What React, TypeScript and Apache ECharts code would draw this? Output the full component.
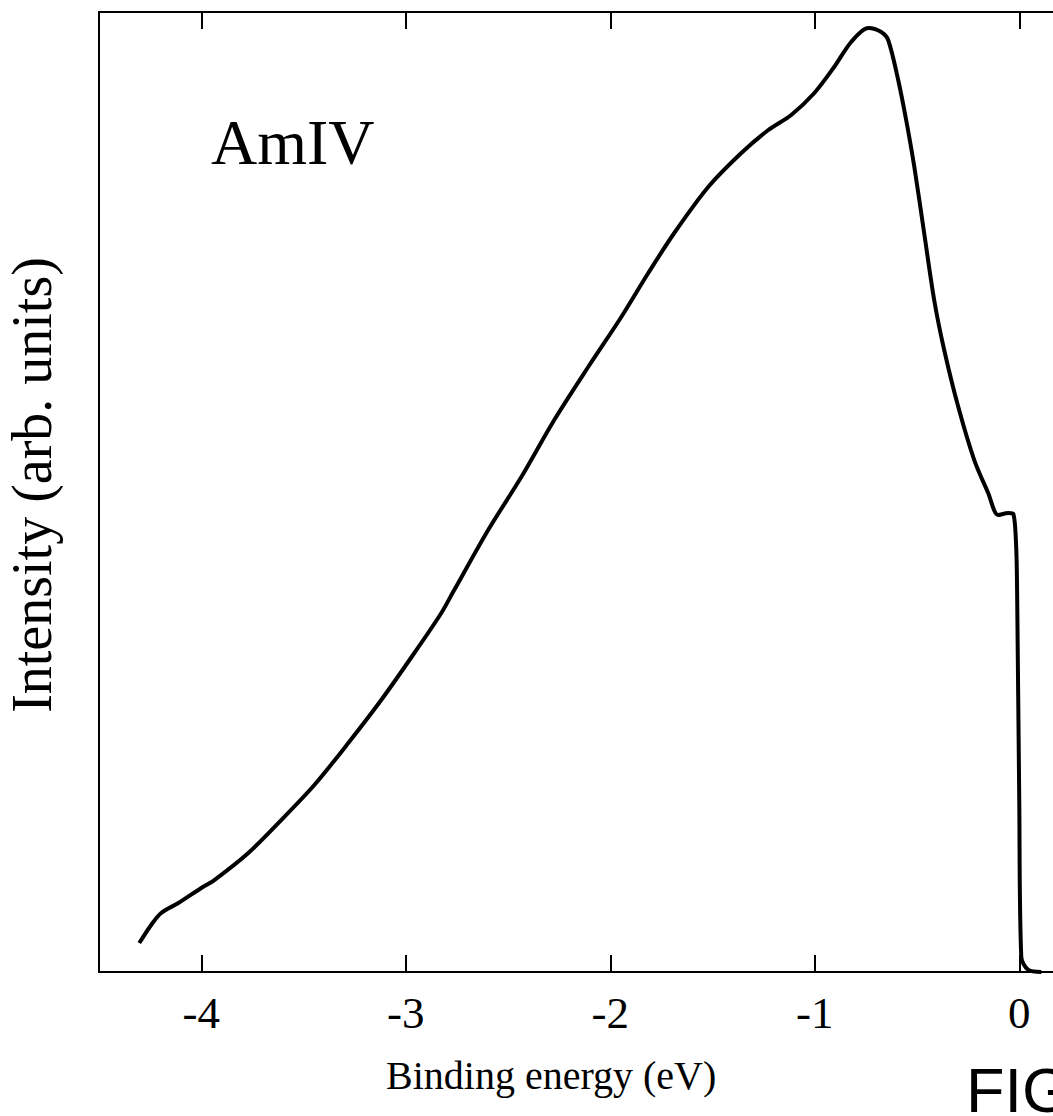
import React, { useEffect, useRef } from "react";
import * as echarts from "echarts";

const energy = [
  -4.303, -4.245, -4.196, -4.112, -4.0, -3.936, -3.77, -3.609, -3.447, -3.281,
  -3.12, -2.958, -2.826, -2.763, -2.597, -2.435, -2.274, -2.108, -1.946, -1.814,
  -1.687, -1.521, -1.359, -1.227, -1.115, -1.002, -0.905, -0.822, -0.738, -0.675,
  -0.641, -0.592, -0.553, -0.513, -0.465, -0.416, -0.367, -0.298, -0.22, -0.152,
  -0.103, -0.054, -0.029, -0.015, -0.01, 0.0, 0.01, 0.044, 0.108,
];
const intensity = [
  3.02, 4.9, 6.15, 7.19, 8.75, 9.58, 12.4, 15.83, 19.48, 23.85,
  28.33, 33.23, 37.4, 39.79, 46.04, 51.56, 57.5, 63.02, 68.23, 72.81,
  76.98, 81.77, 85.31, 87.71, 89.27, 91.56, 94.27, 96.88, 98.33, 97.92,
  97.08, 92.92, 88.75, 83.85, 76.98, 70.0, 64.79, 58.85, 53.33, 49.9,
  47.6, 47.81, 47.71, 44.27, 38.75, 17.92, 1.56, 0.21, 0.0,
];
const xTicks = [-4, -3, -2, -1, 0];
const xMin = -4.5;
const xMax = 0.5;
const yMin = 0;
const yMax = 100;

const sampleLabel = "AmIV";
const xTitle = "Binding energy (eV)";
const yTitle = "Intensity (arb. units)";
const figLabel = "FIG";

export default function App() {
  const ref = useRef<HTMLDivElement>(null);
  useEffect(() => {
    if (!ref.current) return;
    const chart = echarts.init(ref.current, null, { renderer: "svg" });
    const serif = "'Liberation Serif', 'Times New Roman', serif";
    const sans = "'Liberation Sans', Arial, sans-serif";
    const axisLine = { show: true, onZero: false, lineStyle: { color: "#000", width: 2 } };
    const tick = {
      show: true,
      inside: true,
      length: 17,
      customValues: xTicks,
      lineStyle: { color: "#000", width: 2 },
    };
    chart.setOption({
      animation: false,
      backgroundColor: "#fff",
      grid: { left: 99, top: 12, width: 1022.5, height: 960, containLabel: false },
      xAxis: [
        {
          type: "value",
          min: xMin,
          max: xMax,
          position: "bottom",
          axisLine,
          splitLine: { show: false },
          axisTick: tick,
          axisLabel: {
            show: true,
            customValues: xTicks,
            margin: 18,
            color: "#000",
            fontFamily: serif,
            fontSize: 45,
            formatter: (v: number) => String(v),
          },
        },
        {
          type: "value",
          min: xMin,
          max: xMax,
          position: "top",
          axisLine,
          splitLine: { show: false },
          axisTick: tick,
          axisLabel: { show: false },
        },
      ],
      yAxis: [
        {
          type: "value",
          min: yMin,
          max: yMax,
          position: "left",
          axisLine,
          axisTick: { show: false },
          axisLabel: { show: false },
          splitLine: { show: false },
        },
        {
          type: "value",
          min: yMin,
          max: yMax,
          position: "right",
          axisLine,
          axisTick: { show: false },
          axisLabel: { show: false },
          splitLine: { show: false },
        },
      ],
      series: [
        {
          type: "line",
          data: energy.map((e, i) => [e, intensity[i]]),
          showSymbol: false,
          smooth: 0.3,
          lineStyle: { color: "#000", width: 4 },
          xAxisIndex: 0,
          yAxisIndex: 0,
        },
      ],
      graphic: [
        {
          type: "text",
          left: 211,
          top: 110,
          style: { text: sampleLabel, fontFamily: serif, fontSize: 64, fill: "#000" },
        },
        {
          type: "text",
          left: 386,
          top: 1055,
          style: { text: xTitle, fontFamily: serif, fontSize: 40, fill: "#000" },
        },
        {
          type: "text",
          x: 32,
          y: 485,
          rotation: Math.PI / 2,
          style: {
            text: yTitle,
            fontFamily: serif,
            fontSize: 56,
            fill: "#000",
            align: "center",
            verticalAlign: "middle",
          },
        },
        {
          type: "text",
          left: 966,
          top: 1058,
          style: { text: figLabel, fontFamily: sans, fontSize: 63, fill: "#000" },
        },
      ],
    });
    return () => chart.dispose();
  }, []);
  return (
    <div
      style={{
        position: "fixed",
        left: 0,
        top: 0,
        width: 1053,
        height: 1116,
        overflow: "hidden",
        background: "#fff",
      }}
    >
      <div ref={ref} style={{ width: 1200, height: 1116 }} />
    </div>
  );
}
